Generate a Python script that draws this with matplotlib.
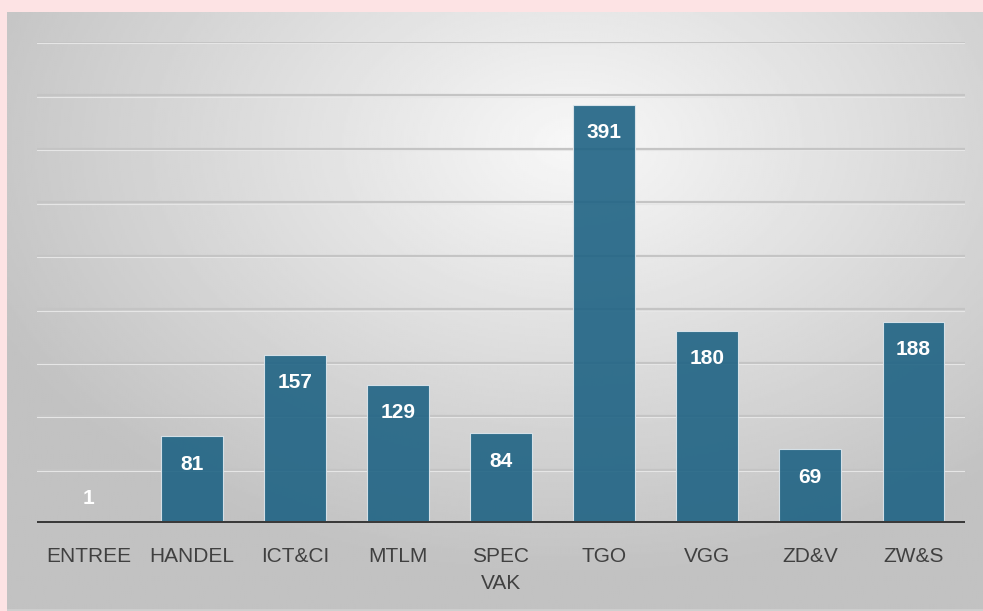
import matplotlib.pyplot as plt
import numpy as np

categories = ["ENTREE", "HANDEL", "ICT&CI", "MTLM", "SPEC\nVAK", "TGO", "VGG", "ZD&V", "ZW&S"]
values = [1, 81, 157, 129, 84, 391, 180, 69, 188]

W, H = 983, 611
fig = plt.figure(figsize=(W / 100, H / 100), dpi=100)
fig.patch.set_facecolor("#fde3e4")

# panel with a radial grey gradient
bg = fig.add_axes([7 / W, 0, 1 - 7 / W, (H - 12) / H])
yy, xx = np.mgrid[0:1:300j, 0:1:500j]
r = np.sqrt(((xx - 0.58) / 1.0) ** 2 + ((yy - 0.22) / 1.1) ** 2)
shade = np.clip(0.97 - 0.32 * r, 0.76, 0.97)
bg.imshow(shade, cmap="gray", vmin=0, vmax=1, aspect="auto", extent=[0, 1, 1, 0])
bg.set_axis_off()
bg.axhline(0.999, color="#cfcfcf", lw=2)

ax = fig.add_axes([37 / W, (H - 523) / H, 928 / W, (523 - 42) / H])
ax.patch.set_alpha(0)
x = np.arange(len(categories))

for g in range(50, 451, 50):
    ax.axhline(g, color="#c4c4c4", lw=1.6, zorder=1)
    ax.axhline(g - 1.2, color="#e6e6e6", lw=0.8, zorder=1)

ax.bar(x, values, width=0.6, color="#1f6384", alpha=0.9, edgecolor="#dfe8ee",
       linewidth=0.8, zorder=2)
ax.axhline(0, color="#3a3a3a", lw=3.6, zorder=3)

for xi, v in zip(x, values):
    ax.text(xi, max(v - 26, 23), str(v), ha="center", va="center", color="white",
            fontsize=15, fontweight="bold", family="Liberation Sans", zorder=4)

ax.set_xlim(-0.5, len(categories) - 0.5)
ax.set_ylim(0, 450)
ax.set_yticks([])
ax.set_xticks(x)
ax.set_xticklabels(categories, fontsize=15, color="#404040", family="Liberation Sans",
                   linespacing=1.55, va="top")
ax.tick_params(axis="x", length=0, pad=17)
for s in ax.spines.values():
    s.set_visible(False)

fig.savefig("out.png", dpi=100, facecolor=fig.get_facecolor())
